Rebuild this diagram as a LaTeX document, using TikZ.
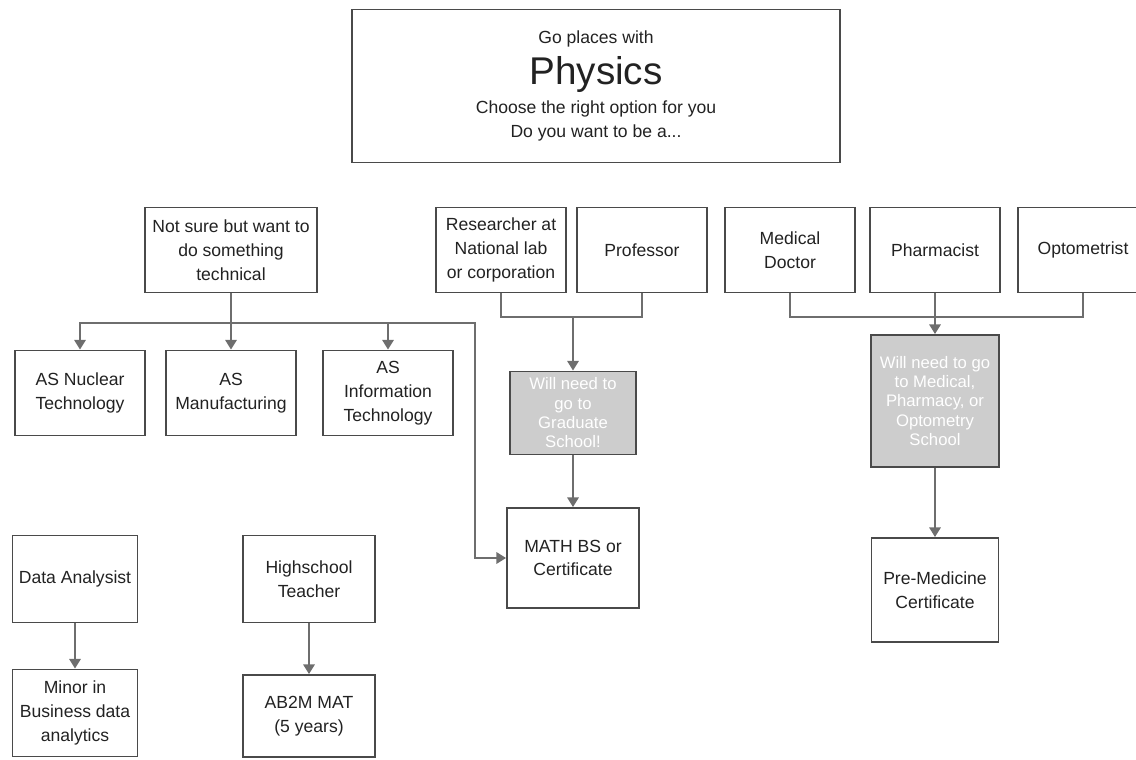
\documentclass[tikz,border=0pt]{standalone}
\usepackage{fontspec}
\setmainfont{Liberation Sans}
\usetikzlibrary{arrows.meta, calc}
\definecolor{boxline}{HTML}{4A4A4A}
\definecolor{wiregray}{HTML}{6E6E6E}
\definecolor{fogfill}{HTML}{CDCDCD}
\definecolor{inkdark}{HTML}{222222}

\begin{document}
\begin{tikzpicture}[x=0.02cm, y=-0.02cm,
  optbox/.style={draw=boxline, line width=1.1pt, fill=white, align=center,
    text=inkdark, font=\fontsize{10}{13.6}\selectfont, inner sep=2pt,
    minimum width=2.6cm, minimum height=1.7cm},
  fogbox/.style={optbox, fill=fogfill, text=white},
  wire/.style={draw=wiregray, line width=1.1pt},
  >={Triangle[length=5.5pt, width=6.5pt]}]

% Page frame (pixel grid of the scan)
\useasboundingbox (0,0) rectangle (1136,760);

% Title
\node[optbox, minimum width=9.76cm, minimum height=3.06cm] (title) at (596,86)
  {Go places with\\[4pt]
   {\fontsize{22}{24}\selectfont Physics}\\[3pt]
   Choose the right option for you\\
   Do you want to be a...};

% ============================================================
% Top row: careers
% ============================================================
\node[optbox, minimum width=3.44cm] (notsure) at (231,250)
  {Not sure but want to\\do something\\technical};
\node[optbox] (research) at (501,250) {Researcher at\\National lab\\or corporation};
\node[optbox] (prof)     at (642,250) {Professor};
\node[optbox] (meddoc)   at (790,250) {Medical\\Doctor};
\node[optbox] (pharm)    at (935,250) {Pharmacist};
\node[optbox] (opto)     at (1083,250) {Optometrist};

% ============================================================
% Research / teaching branch
% ============================================================
\node[fogbox, minimum width=2.52cm, minimum height=1.66cm,
  font=\fontsize{9.5}{11}\selectfont] (grad) at (573,413)
  {Will need to\\go to\\Graduate\\School!};
\node[optbox, minimum width=2.64cm, minimum height=2cm] (mathbs) at (573,558)
  {MATH BS or\\Certificate};

\coordinate (rpjoin) at (573,317);
\draw[wire] (research.south) |- (rpjoin) -| (prof.south);
\draw[wire, ->] (rpjoin) -- (grad.north);
\draw[wire, ->] (grad.south) -- (mathbs.north);

% ============================================================
% Technical branch
% ============================================================
\node[optbox] (nuclear)  at (80,393)  {AS Nuclear\\Technology};
\node[optbox] (manuf)    at (231,393) {AS\\Manufacturing};
\node[optbox] (infotech) at (388,393) {AS\\Information\\Technology};

\coordinate (mathturn) at (475,323);
\coordinate (techbus) at (notsure.south |- mathturn);
\draw[wire] (notsure.south) -- (techbus);
\draw[wire, ->] (techbus) -| (nuclear.north);
\draw[wire, ->] (techbus) -- (manuf.north);
\draw[wire, ->] (techbus) -| (infotech.north);
\draw[wire, ->] (techbus) -- (mathturn) |- (mathbs.west);

% ============================================================
% Health branch
% ============================================================
\node[fogbox, minimum width=2.56cm, minimum height=2.64cm,
  font=\fontsize{9.5}{11}\selectfont] (medschool) at (935,401)
  {Will need to go\\to Medical,\\Pharmacy, or\\Optometry\\School};
\node[optbox, minimum width=2.54cm, minimum height=2.08cm] (premed) at (935,590)
  {Pre-Medicine\\Certificate};

\coordinate (medjoin) at (935,317);
\draw[wire] (meddoc.south) |- (medjoin) -| (opto.south);
\draw[wire] (pharm.south) -- (medjoin);
\draw[wire, ->] (medjoin) -- (medschool.north);
\draw[wire, ->] (medschool.south) -- (premed.north);

% ============================================================
% Bottom left: data and teaching
% ============================================================
\node[optbox, minimum width=2.5cm, minimum height=1.74cm] (data) at (75,579)
  {Data Analysist};
\node[optbox, minimum width=2.5cm, minimum height=1.74cm] (minor) at (75,713)
  {Minor in\\Business data\\analytics};
\node[optbox, minimum width=2.64cm, minimum height=1.74cm] (teacher) at (309,579)
  {Highschool\\Teacher};
\node[optbox, minimum width=2.64cm, minimum height=1.64cm] (ab2m) at (309,716)
  {AB2M MAT\\(5 years)};

\draw[wire, ->] (data.south) -- (minor.north);
\draw[wire, ->] (teacher.south) -- (ab2m.north);

\end{tikzpicture}
\end{document}
